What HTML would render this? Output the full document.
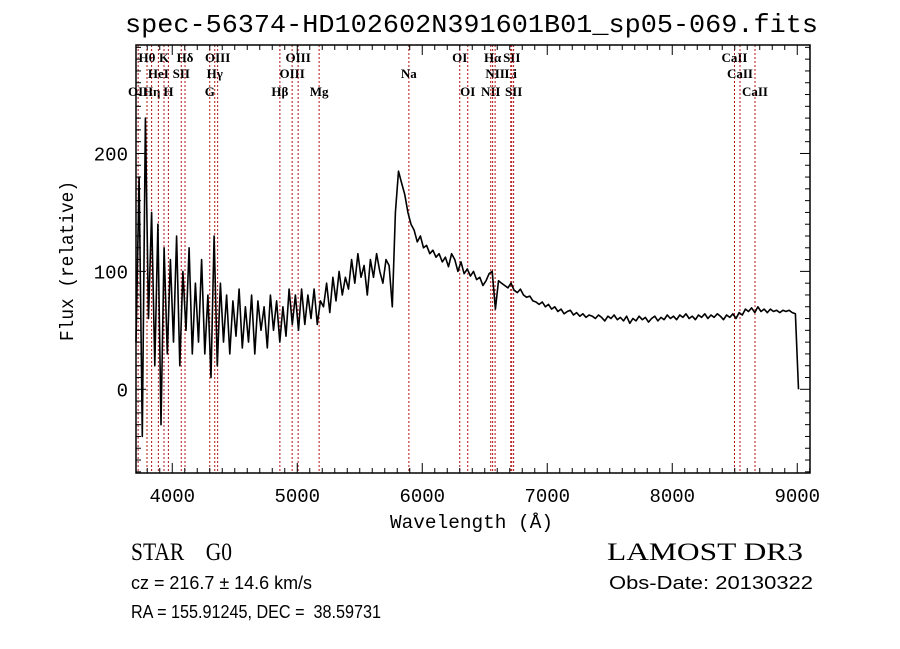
<!DOCTYPE html>
<html><head><meta charset="utf-8"><style>
html,body{margin:0;padding:0;background:#fff;}
svg{display:block;}
text{font-family:"Liberation Sans",sans-serif;fill:#000;white-space:pre;}
.mono{font-family:"Liberation Mono",monospace;}
.ser{font-family:"Liberation Serif",serif;font-size:13px;font-weight:bold;}
.big{font-family:"Liberation Serif",serif;font-size:25px;}
.info{font-family:"Liberation Sans",sans-serif;font-size:18px;}
</style></head><body>
<svg id="chart" width="900" height="649" viewBox="0 0 900 649" xmlns="http://www.w3.org/2000/svg" xml:space="preserve">
<rect width="900" height="649" fill="#fff"/>
<text class="mono" x="125" y="32" font-size="26" textLength="693" lengthAdjust="spacingAndGlyphs">spec-56374-HD102602N391601B01_sp05-069.fits</text>
<g id="lines"></g>
<g id="spec"></g>
<rect x="136" y="45" width="674" height="428" fill="none" stroke="#000" stroke-width="1.5"/>
<g id="ticks"></g>
<text class="mono" x="390" y="528" font-size="19" textLength="163" lengthAdjust="spacingAndGlyphs">Wavelength (Å)</text>
<text class="mono" transform="translate(73,341) rotate(-90)" font-size="19" textLength="160" lengthAdjust="spacingAndGlyphs">Flux (relative)</text>
<text class="big" x="131" y="560" textLength="101" lengthAdjust="spacingAndGlyphs">STAR    G0</text>
<text class="big" x="607" y="560" textLength="196" lengthAdjust="spacingAndGlyphs">LAMOST DR3</text>
<text class="info" x="131" y="589" textLength="181" lengthAdjust="spacingAndGlyphs">cz = 216.7 ± 14.6 km/s</text>
<text class="info" x="609" y="589" textLength="204" lengthAdjust="spacingAndGlyphs">Obs-Date: 20130322</text>
<text class="info" x="131" y="618" textLength="250" lengthAdjust="spacingAndGlyphs">RA = 155.91245, DEC =  38.59731</text>
</svg>
<script>
const waveStart = 3710;
const waveStep = 25;
const flux = [40,180,-40,230,60,150,20,140,-30,120,30,110,40,130,20,100,50,120,30,90,40,110,30,80,10,130,20,90,40,80,30,75,45,85,35,70,40,80,30,75,50,70,35,80,50,75,40,70,45,85,55,80,50,85,55,80,60,85,55,75,70,90,65,95,75,100,80,95,85,110,90,115,95,105,80,110,95,115,100,90,110,105,70,150,185,175,165,150,140,135,125,130,120,122,115,118,112,115,108,112,104,115,110,100,108,98,102,96,100,93,95,88,92,98,100,68,92,90,88,86,90,84,82,85,80,78,79,75,74,72,74,70,72,68,70,66,68,64,66,67,63,65,62,64,61,63,62,60,63,61,58,62,60,63,59,61,58,62,56,60,58,62,59,61,57,60,62,58,61,59,63,60,62,59,63,61,64,60,62,59,63,61,64,60,63,61,64,62,59,63,61,64,60,65,63,68,66,69,65,70,66,68,65,68,66,67,65,67,66,67,65,64,0];
const lineWaves = [3727,3798,3835,3889,3934,3969,4072,4102,4300,4340,4363,4861,4959,5007,5175,5893,6300,6364,6548,6563,6583,6708,6716,6731,8498,8542,8662];
const lineLabels = ["OII","Hθ","Hη","HeI","K","H","SII","Hδ","G","Hγ","OIII","Hβ","OIII","OIII","Mg","Na","OI","OI","NII","Hα","NII","Li","SII","SII","CaII","CaII","CaII"];
const lineRows = [3,1,3,2,1,3,2,1,3,2,1,3,2,1,3,2,1,3,3,1,2,2,1,3,1,2,3];
const xTicks = [4000,5000,6000,7000,8000,9000];
const yTicks = [0,100,200];

const NS = "http://www.w3.org/2000/svg";
const X0=136,X1=810,Y0=45,Y1=473, WMIN=3710, WMAX=9102, FMIN=-71, FMAX=292;
const xs = w => X0 + (w-WMIN)/(WMAX-WMIN)*(X1-X0);
const ys = f => Y1 - (f-FMIN)/(FMAX-FMIN)*(Y1-Y0);
function mk(tag, attrs, parent){const e=document.createElementNS(NS,tag);for(const k in attrs)e.setAttribute(k,attrs[k]);parent.appendChild(e);return e;}

const lg=document.getElementById('lines');
lineWaves.forEach((w,i)=>{
  const x=xs(w);
  const l=mk('line',{x1:x,x2:x,y1:Y0,y2:Y1,stroke:'#b01010','stroke-width':1,'stroke-dasharray':'2,2'},lg);
  
  
  const ty=[0,62,78,96][lineRows[i]];
  const t=mk('text',{x:x,y:ty,'text-anchor':'middle','class':'ser'},lg);
  t.textContent=lineLabels[i];
  
  
});

const sg=document.getElementById('spec');
let d='';
flux.forEach((f,i)=>{const w=waveStart+waveStep*i;const x=Math.min(xs(w),X1);d+=(i?'L':'M')+x.toFixed(1)+','+ys(Math.max(Math.min(f,FMAX),FMIN)).toFixed(1);});
const p=mk('path',{d:d,fill:'none',stroke:'#000','stroke-width':1.6,'stroke-linejoin':'round'},sg);



const tg=document.getElementById('ticks');
for(let w=3800;w<=9100;w+=100){
  const x=xs(w);const major=w%1000===0;const len=major?10:5;
  mk('line',{x1:x,x2:x,y1:Y1,y2:Y1-len,stroke:'#000'},tg);
  mk('line',{x1:x,x2:x,y1:Y0,y2:Y0+len,stroke:'#000'},tg);
}
xTicks.forEach(w=>{const t=mk('text',{x:xs(w),y:502,'text-anchor':'middle','class':'mono','font-size':19},tg);t.textContent=w;
  
  });
for(let f=-70;f<=290;f+=10){
  const y=ys(f);const major=f%100===0;const len=major?10:5;
  mk('line',{x1:X0,x2:X0+len,y1:y,y2:y,stroke:'#000'},tg);
  mk('line',{x1:X1,x2:X1-len,y1:y,y2:y,stroke:'#000'},tg);
}
yTicks.forEach(f=>{const t=mk('text',{x:128,y:ys(f)+7,'text-anchor':'end','class':'mono','font-size':19},tg);t.textContent=f;
  
  });
</script>
</body></html>
